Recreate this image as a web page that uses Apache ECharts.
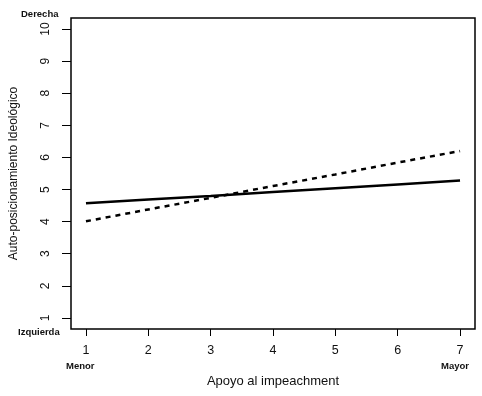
<!DOCTYPE html>
<html>
<head>
<meta charset="utf-8">
<script src="https://cdn.jsdelivr.net/npm/echarts@6/dist/echarts.min.js"></script>
<style>html,body{margin:0;padding:0;background:#fff}#c{width:482px;height:396px}</style>
</head>
<body>
<div id="c"></div>
<script>
var xValues = [1, 2, 3, 4, 5, 6, 7];
var solidSeries = [4.57, 4.69, 4.80, 4.92, 5.04, 5.16, 5.28];
var dashedSeries = [4.01, 4.38, 4.74, 5.11, 5.47, 5.84, 6.20];
var yTicks = [1, 2, 3, 4, 5, 6, 7, 8, 9, 10];
var xTitle = 'Apoyo al impeachment';
var yTitle = 'Auto-posicionamiento Ideológico';
var font = 'Liberation Sans, Arial, sans-serif';

function pairs(xs, ys) { return xs.map(function (x, i) { return [x, ys[i]]; }); }

var chart = echarts.init(document.getElementById('c'), null, { renderer: 'canvas' });
chart.setOption({
  animation: false,
  backgroundColor: '#fff',
  grid: { left: 68, right: 7, top: 18, bottom: 67, show: true, borderColor: '#000', borderWidth: 1.5, backgroundColor: 'transparent' },
  xAxis: {
    type: 'value', min: 0.76, max: 7.24, interval: 1,
    axisLine: { show: false },
    axisTick: { show: true, length: 7, lineStyle: { color: '#000', width: 1 }, customValues: xValues },
    axisLabel: { color: '#111', fontSize: 12.5, fontFamily: font, margin: 15, customValues: xValues },
    splitLine: { show: false },
    name: xTitle, nameLocation: 'middle', nameGap: 46,
    nameTextStyle: { color: '#111', fontSize: 13, fontFamily: font }
  },
  yAxis: {
    type: 'value', min: 0.655, max: 10.345,
    axisLine: { show: false },
    axisTick: { show: true, length: 9, lineStyle: { color: '#000', width: 1 }, customValues: yTicks },
    axisLabel: { color: '#111', fontSize: 12, fontFamily: font, rotate: 90, margin: 19, customValues: yTicks, align: 'center', verticalAlign: 'bottom' },
    splitLine: { show: false },
    name: yTitle, nameLocation: 'middle', nameGap: 51, nameRotate: 90,
    nameTextStyle: { color: '#111', fontSize: 12, fontFamily: font }
  },
  graphic: [
    { type: 'text', left: 21, top: 9, style: { text: 'Derecha', font: 'bold 9.5px ' + font, fill: '#111' } },
    { type: 'text', left: 18, top: 327, style: { text: 'Izquierda', font: 'bold 9.5px ' + font, fill: '#111' } },
    { type: 'text', left: 66, top: 361, style: { text: 'Menor', font: 'bold 9.5px ' + font, fill: '#111' } },
    { type: 'text', left: 441, top: 361, style: { text: 'Mayor', font: 'bold 9.5px ' + font, fill: '#111' } }
  ],
  series: [
    { type: 'line', data: pairs(xValues, solidSeries), showSymbol: false, lineStyle: { color: '#000', width: 2.5, type: 'solid' } },
    { type: 'line', data: pairs(xValues, dashedSeries), showSymbol: false, lineStyle: { color: '#000', width: 2.5, type: [5, 5] } }
  ]
});
</script>
</body>
</html>
